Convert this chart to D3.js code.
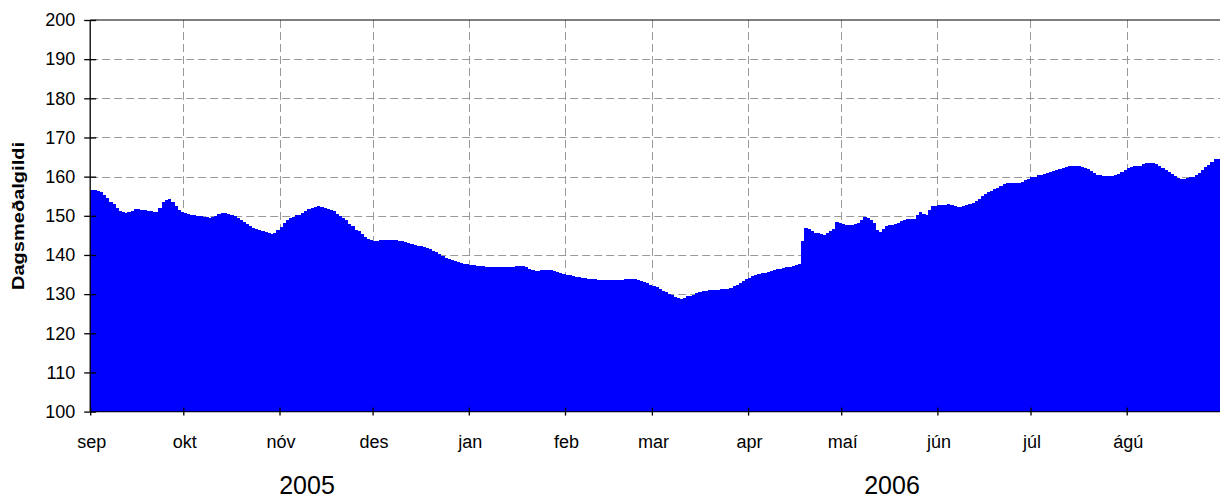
<!DOCTYPE html>
<html>
<head>
<meta charset="utf-8">
<script src="https://cdn.jsdelivr.net/npm/d3@7"></script>
<style>
  body { margin: 0; background: #fff; }
  text { font-family: "Liberation Sans", Arial, sans-serif; fill: #000; }
</style>
</head>
<body>
<div id="canvas"></div>
<script>
// daily means, one array per month (sep 2005 - ágú 2006)
const sepValues = [156.5,156.5,156.3,156,155.2,154.5,153.6,152.9,152,151.3,151,150.8,150.9,151.3,151.7,151.8,151.6,151.4,151.3,151.1,151,150.9,152,153.5,154.1,154.3,153.6,152.4,151.6,150.9];
const oktValues = [150.7,150.5,150.3,150.1,150,149.9,149.7,149.6,149.5,149.6,150,150.4,150.7,150.7,150.5,150.2,150,149.5,149,148.3,147.8,147.4,147,146.7,146.5,146.1,145.8,145.6,145.4,145.7,146.5];
const novValues = [147.2,148.2,149,149.5,149.8,150.1,150.3,150.6,151.1,151.7,152,152.3,152.4,152.3,152.1,151.8,151.5,151.1,150.5,150,149.5,148.8,148,147.3,146.5,146,145.3,144.7,144.2,143.8];
const desValues = [143.6,143.6,143.7,143.8,143.9,143.9,143.8,143.7,143.6,143.5,143.3,143.1,142.9,142.6,142.4,142.2,142,141.8,141.5,141.1,140.7,140.2,139.7,139.3,139,138.7,138.5,138.3,138,137.8,137.6];
const janValues = [137.5,137.4,137.3,137.2,137.1,137,136.9,136.9,136.8,136.8,136.8,136.8,136.9,136.9,137,137.1,137.3,137.2,136.8,136.3,136.1,136,136,136.1,136.1,136.1,136.1,135.9,135.6,135.4,135.2];
const febValues = [135,134.8,134.6,134.4,134.3,134.1,134,133.9,133.9,133.8,133.7,133.6,133.6,133.5,133.5,133.5,133.5,133.6,133.7,133.8,133.9,133.9,133.8,133.6,133.4,133.2,132.8,132.4];
const marValues = [132,131.7,131.3,130.9,130.5,130.1,129.7,129.3,128.9,128.8,129.1,129.4,129.6,129.9,130.2,130.5,130.8,130.9,131,131.1,131.1,131.1,131.2,131.2,131.3,131.6,132,132.4,132.8,133.3,133.8];
const aprValues = [134.1,134.5,134.8,135.1,135.3,135.5,135.7,135.9,136.1,136.3,136.4,136.6,136.8,137,137.2,137.4,137.6,143.6,146.8,146.6,146.1,145.7,145.5,145.3,145.2,145.5,146,146.6,148.5,148.1];
const maiValues = [147.8,147.7,147.6,147.7,147.9,148.2,148.8,149.6,149.4,149,148.2,146.5,145.9,146.6,147.4,147.7,147.7,147.9,148.1,148.6,149,149.1,149.2,149.3,150.2,151,150.5,150.3,151.5,152.6,152.6];
const junValues = [152.7,152.7,152.8,152.9,152.7,152.4,152.2,152.3,152.5,152.7,152.9,153.2,153.8,154.4,155,155.5,156,156.4,156.8,157.1,157.5,158,158.3,158.4,158.4,158.3,158.4,158.7,159.1,159.5];
const julValues = [159.8,160,160.3,160.5,160.8,161,161.2,161.4,161.6,161.9,162.2,162.5,162.7,162.8,162.8,162.7,162.5,162.2,161.9,161.4,160.9,160.5,160.3,160.2,160.1,160.1,160.1,160.3,160.7,161.2,161.7];
const aguValues = [162.1,162.4,162.7,162.8,162.8,163.2,163.5,163.5,163.4,163.2,162.8,162.3,161.8,161.2,160.6,160.1,159.6,159.3,159.4,159.6,159.8,160,160.4,160.9,161.6,162.4,163.1,163.8,164.4,164.6,164.7];

const monthLabels = ['sep','okt','nóv','des','jan','feb','mar','apr','maí','jún','júl','ágú'];
const yearLabels = ['2005', '2006'];
const yTicks = [100,110,120,130,140,150,160,170,180,190,200];

const values = [].concat(sepValues, oktValues, novValues, desValues, janValues, febValues,
  marValues, aprValues, maiValues, junValues, julValues, aguValues);
const start = new Date(2005, 8, 1), end = new Date(2006, 8, 1);
const days = d3.timeDay.range(start, end);
const data = days.map((d, i) => ({ date: d, value: values[i] }));
const months = d3.timeMonth.range(start, end);

const width = 1220, height = 501;
const svg = d3.select('#canvas')
  .append('svg')
    .attr('width', width)
    .attr('height', height);

const x = d3.scaleTime()
  .domain([start, end])
  .range([90.2, 1222.9]);
const y = d3.scaleLinear()
  .domain([100, 200])
  .range([411.6, 20]);

// grid
svg.append('g')
  .selectAll('line')
  .data(yTicks.slice(1, -1))
  .join('line')
    .attr('x1', x.range()[0]).attr('x2', width)
    .attr('y1', d => Math.round(y(d)) + 0.5).attr('y2', d => Math.round(y(d)) + 0.5)
    .attr('stroke', '#999')
    .attr('stroke-dasharray', '8,4');
svg.append('g')
  .selectAll('line')
  .data(months.slice(1))
  .join('line')
    .attr('x1', d => Math.round(x(d)) + 0.5).attr('x2', d => Math.round(x(d)) + 0.5)
    .attr('y1', y(200)).attr('y2', y(100))
    .attr('stroke', '#999')
    .attr('stroke-dasharray', '8,4');
svg.append('line')
  .attr('x1', x.range()[0]).attr('x2', width)
  .attr('y1', y(200)).attr('y2', y(200))
  .attr('stroke', '#000');

// bars
svg.append('g')
  .attr('shape-rendering', 'crispEdges')
  .selectAll('rect')
  .data(data)
  .join('rect')
    .attr('x', d => x(d.date))
    .attr('width', d => x(d3.timeDay.offset(d.date, 1)) - x(d.date) + 0.6)
    .attr('y', d => y(d.value))
    .attr('height', d => y(100) - y(d.value))
    .attr('fill', '#0000ff');

// axes
const yAxis = svg.append('g')
  .attr('transform', `translate(${x.range()[0]},0)`)
  .call(d3.axisLeft(y).tickValues(yTicks).tickSize(6).tickPadding(10));
yAxis.selectAll('.tick line').attr('x2', 6).attr('x1', -6);
yAxis.select('.domain').attr('d', `M0,${y(200)}V${y(100)}`);
yAxis.selectAll('text')
  .attr('font-size', 18)
  .attr('font-family', null)
  .attr('x', -15);

const xAxis = svg.append('g')
  .attr('transform', `translate(0,${y(100)})`)
  .call(d3.axisBottom(x).tickValues(months).tickFormat((d, i) => monthLabels[i]).tickSize(4).tickPadding(20));
xAxis.selectAll('.tick line').attr('y1', -4).attr('y2', 4);
xAxis.select('.domain').attr('d', `M${x.range()[0]},0H${width}`).attr('stroke', '#000033');
xAxis.selectAll('text')
  .attr('font-size', 18)
  .attr('font-family', null)
  .attr('dx', 1);

svg.selectAll('.domain, .tick line').attr('stroke-width', 1.3);

// year labels
svg.append('g')
  .selectAll('text')
  .data(yearLabels)
  .join('text')
    .attr('x', (d, i) => i === 0 ? 307 : 892)
    .attr('y', 494)
    .attr('text-anchor', 'middle')
    .attr('font-size', 25)
    .text(d => d);

svg.append('text')
  .attr('transform', 'translate(24,216) rotate(-90)')
  .attr('text-anchor', 'middle')
  .attr('font-size', 17)
  .attr('font-weight', 'bold')
  .attr('textLength', 148)
  .attr('lengthAdjust', 'spacingAndGlyphs')
  .text('Dagsmeðalgildi');
</script>
</body>
</html>
